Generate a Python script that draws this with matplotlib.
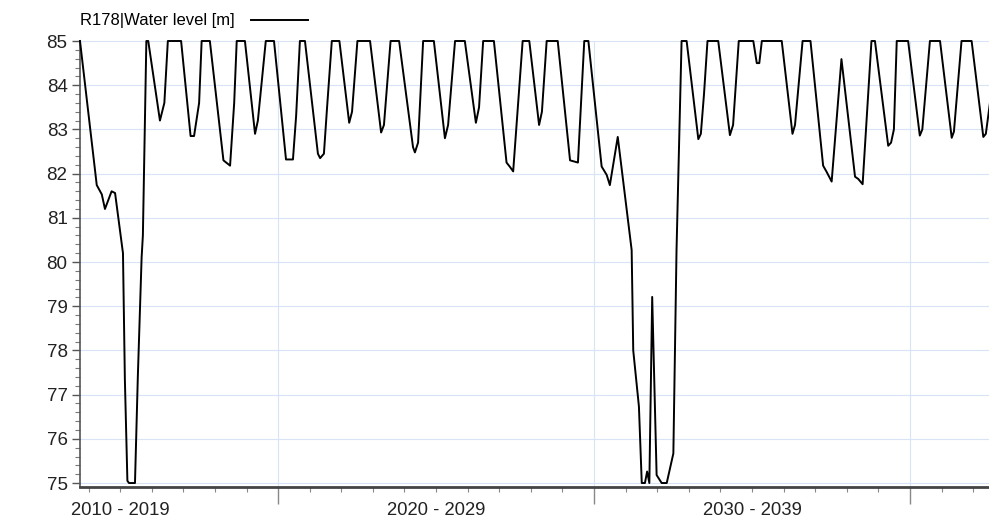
import matplotlib
matplotlib.use('Agg')
import matplotlib.pyplot as plt
from matplotlib.ticker import MultipleLocator, FixedLocator, NullFormatter

plt.rcParams['font.family'] = ['Liberation Sans', 'DejaVu Sans']

# Water level series (decimal year, level in m)
years = [
    2013.73, 2014.26, 2014.42, 2014.52, 2014.73, 2014.84, 2015.09, 2015.15, 2015.23, 2015.28,
    2015.47, 2015.56, 2015.68, 2015.72, 2015.83, 2015.89, 2016.26, 2016.40, 2016.51, 2016.93,
    2017.23, 2017.34, 2017.50, 2017.58, 2017.84, 2018.27, 2018.48, 2018.61, 2018.69, 2018.95,
    2019.27, 2019.36, 2019.61, 2019.87, 2020.25, 2020.47, 2020.57, 2020.69, 2020.85, 2021.26,
    2021.33, 2021.45, 2021.55, 2021.70, 2021.94, 2022.25, 2022.34, 2022.51, 2022.91, 2023.26,
    2023.35, 2023.56, 2023.83, 2024.27, 2024.33, 2024.43, 2024.59, 2024.93, 2025.28, 2025.38,
    2025.60, 2025.91, 2026.26, 2026.36, 2026.49, 2026.83, 2027.23, 2027.34, 2027.44, 2027.74,
    2027.95, 2028.26, 2028.35, 2028.50, 2028.85, 2029.24, 2029.49, 2029.58, 2029.69, 2029.82,
    2030.24, 2030.40, 2030.50, 2030.75, 2031.19, 2031.24, 2031.42, 2031.51, 2031.61, 2031.68,
    2031.75, 2031.84, 2031.98, 2032.14, 2032.30, 2032.51, 2032.61, 2032.77, 2032.93, 2033.30,
    2033.38, 2033.48, 2033.59, 2033.93, 2034.30, 2034.40, 2034.58, 2035.04, 2035.15, 2035.23,
    2035.31, 2035.94, 2036.28, 2036.36, 2036.60, 2036.85, 2037.25, 2037.36, 2037.52, 2037.83,
    2038.26, 2038.36, 2038.50, 2038.78, 2038.89, 2039.31, 2039.40, 2039.49, 2039.58, 2039.94,
    2040.31, 2040.39, 2040.63, 2040.95, 2041.32, 2041.39, 2041.63, 2041.95, 2042.32, 2042.40,
    2042.53,
]
level = [
    85.00, 81.74, 81.53, 81.20, 81.60, 81.56, 80.20, 77.35, 75.05, 75.00,
    75.00, 77.40, 80.10, 80.60, 85.00, 85.00, 83.20, 83.60, 85.00, 85.00,
    82.85, 82.85, 83.60, 85.00, 85.00, 82.30, 82.18, 83.60, 85.00, 85.00,
    82.90, 83.20, 85.00, 85.00, 82.32, 82.32, 83.30, 85.00, 85.00, 82.45,
    82.35, 82.45, 83.50, 85.00, 85.00, 83.15, 83.40, 85.00, 85.00, 82.93,
    83.10, 85.00, 85.00, 82.60, 82.48, 82.70, 85.00, 85.00, 82.80, 83.10,
    85.00, 85.00, 83.15, 83.50, 85.00, 85.00, 82.25, 82.15, 82.05, 85.00,
    85.00, 83.10, 83.40, 85.00, 85.00, 82.30, 82.25, 83.50, 85.00, 85.00,
    82.16, 81.97, 81.74, 82.83, 80.27, 78.00, 76.73, 75.00, 75.00, 75.26,
    75.00, 79.21, 75.18, 75.00, 75.00, 75.67, 80.27, 85.00, 85.00, 82.78,
    82.90, 83.80, 85.00, 85.00, 82.87, 83.10, 85.00, 85.00, 84.50, 84.50,
    85.00, 85.00, 82.90, 83.10, 85.00, 85.00, 82.18, 82.04, 81.82, 84.59,
    81.93, 81.88, 81.76, 85.00, 85.00, 82.63, 82.70, 83.00, 85.00, 85.00,
    82.86, 83.00, 85.00, 85.00, 82.81, 82.95, 85.00, 85.00, 82.83, 82.90,
    83.60,
]

series_label = 'R178|Water level [m]'
decade_labels = ['2010 - 2019', '2020 - 2029', '2030 - 2039']
decade_centers = [2015, 2025, 2035]
decade_edges = [2020, 2030, 2040]

fig = plt.figure(figsize=(9.89, 5.23), dpi=100)
ax = fig.add_axes([80 / 989, 1 - 487 / 523, 1 - 80 / 989, 446 / 523])

ax.plot(years, level, color='black', lw=1.4, label=series_label, clip_on=False, zorder=3)

ax.set_xlim(2013.73, 2042.5)
ax.set_ylim(74.91, 85)

# grid
ax.yaxis.set_major_locator(MultipleLocator(1))
ax.yaxis.set_minor_locator(MultipleLocator(0.2))
ax.xaxis.set_major_locator(FixedLocator(decade_edges))
ax.xaxis.set_minor_locator(MultipleLocator(1))
ax.xaxis.set_major_formatter(NullFormatter())
ax.grid(True, which='major', color='#d8e4f6', lw=0.8, zorder=0)

for s in ['top', 'right']:
    ax.spines[s].set_visible(False)
ax.spines['left'].set_color('#555555')
ax.spines['left'].set_linewidth(1.2)
ax.spines['bottom'].set_color('#444444')
ax.spines['bottom'].set_linewidth(2)

ax.tick_params(axis='y', which='major', length=6, width=1, color='#555555',
               labelsize=13.5, labelcolor='#222222', pad=3)
ax.tick_params(axis='y', which='minor', length=3.5, width=0.8, color='#777777')
ax.tick_params(axis='x', which='major', length=12.5, width=1, color='#888888')
ax.tick_params(axis='x', which='minor', length=3.5, width=0.8, color='#888888')

for lab, c in zip(decade_labels, decade_centers):
    ax.text(c, -0.052, lab, transform=ax.get_xaxis_transform(), ha='center', va='center',
            fontsize=13.3, color='#222222')

ax.legend(loc='center left', bbox_to_anchor=(0.0, 1.045), frameon=False, markerfirst=False,
          fontsize=12, handlelength=3.4, borderaxespad=0, borderpad=0, handletextpad=1.0)

fig.savefig('out.png', dpi=100)
